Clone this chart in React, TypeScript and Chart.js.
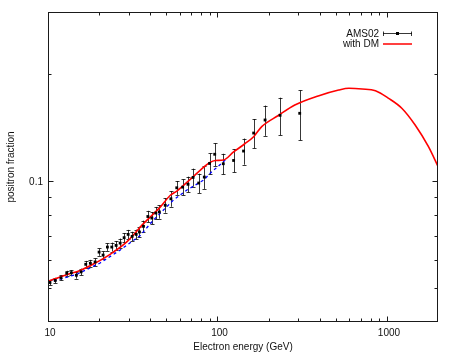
import React, { useEffect, useRef } from "react";
import { Chart, registerables } from "chart.js";

Chart.register(...registerables);

// AMS02 positron fraction (GeV, fraction, error)
const amsEnergy = [10.27, 11.04, 11.93, 12.9, 13.73, 14.7, 15.67, 16.7, 17.78, 18.96, 20.02, 21.14, 22.41, 23.79, 25.23, 26.65, 28.13, 29.71, 31.37, 33.13, 34.64, 36.59, 38.83, 41.0, 43.27, 45.4, 49.17, 53.1, 57.5, 62.3, 67.0, 71.8, 77.5, 83.6, 89.8, 96.3, 108.2, 124.5, 142.5, 163.5, 190.9, 234, 305.6];
const amsFraction = [0.0517, 0.0524, 0.0533, 0.0549, 0.0551, 0.0542, 0.0554, 0.0582, 0.0586, 0.0591, 0.063, 0.0618, 0.0651, 0.0651, 0.0658, 0.0668, 0.0692, 0.0707, 0.0698, 0.0707, 0.0718, 0.0745, 0.0794, 0.0786, 0.0812, 0.0818, 0.0854, 0.0891, 0.0957, 0.0961, 0.0979, 0.1024, 0.0987, 0.1026, 0.1121, 0.119, 0.1119, 0.1143, 0.1215, 0.1366, 0.1487, 0.1533, 0.1553];
const amsError = [0.0009, 0.0009, 0.0009, 0.0009, 0.0009, 0.0012, 0.0012, 0.0013, 0.0013, 0.0014, 0.0015, 0.0015, 0.0016, 0.0019, 0.0019, 0.002, 0.0021, 0.0021, 0.0021, 0.0022, 0.0025, 0.0028, 0.003, 0.0031, 0.0033, 0.0035, 0.004, 0.0045, 0.0043, 0.005, 0.005, 0.006, 0.0062, 0.0076, 0.0077, 0.0088, 0.0075, 0.0085, 0.0103, 0.013, 0.0146, 0.0186, 0.025];

// model with dark matter (red)
const dmEnergy = [10, 12.9, 15.45, 18.53, 23.24, 29.16, 36.6, 45.9, 52.9, 57.6, 69.1, 79.3, 89.7, 97.2, 108.4, 124.4, 144.3, 163.4, 182.4, 228.5, 285.9, 393, 519, 596, 714, 855, 1022, 1223, 1466, 1757, 2000];
const dmFraction = [0.0521, 0.0544, 0.0559, 0.0583, 0.0621, 0.0673, 0.0758, 0.0844, 0.0913, 0.0937, 0.1011, 0.1074, 0.1126, 0.1143, 0.1146, 0.1208, 0.1272, 0.1334, 0.1424, 0.1531, 0.1639, 0.1739, 0.1807, 0.1827, 0.1819, 0.1799, 0.1712, 0.1605, 0.1439, 0.125, 0.11];

// background only (blue dashed)
const bgEnergy = [10, 14.77, 20.3, 26.6, 35.0, 41.9, 55.0, 66.0, 82.8, 90.6, 111.1];
const bgFraction = [0.0517, 0.0545, 0.0587, 0.0638, 0.0702, 0.0776, 0.0884, 0.0943, 0.1006, 0.1052, 0.1146];

const xMajorTicks = [10, 100, 1000];
const xTickLabels = ["10", "100", "1000"];
const xMinorTicks = [20, 30, 40, 50, 60, 70, 80, 90, 200, 300, 400, 500, 600, 700, 800, 900];
const yMajorTicks = [0.1];
const yTickLabels = ["0.1"];
const yMinorTicks = [0.05, 0.06, 0.07, 0.08, 0.09, 0.2];

const FONT = '10px "Liberation Sans", Arial, Helvetica, sans-serif';

const gnuplotPlugin = {
  id: "gnuplotDecor",
  beforeDatasetsDraw(chart: any) {
    const ctx = chart.ctx;
    const xs = chart.scales.x;
    const ys = chart.scales.y;
    ctx.save();
    ctx.strokeStyle = "rgba(0,0,0,0.78)";
    ctx.lineWidth = 1;
    for (let i = 0; i < amsEnergy.length; i++) {
      const px = Math.round(xs.getPixelForValue(amsEnergy[i])) + 0.5;
      const y1 = ys.getPixelForValue(amsFraction[i] + amsError[i]);
      const y2 = ys.getPixelForValue(amsFraction[i] - amsError[i]);
      ctx.beginPath();
      ctx.moveTo(px, y1);
      ctx.lineTo(px, y2);
      ctx.moveTo(px - 2, Math.round(y1) + 0.5);
      ctx.lineTo(px + 2, Math.round(y1) + 0.5);
      ctx.moveTo(px - 2, Math.round(y2) + 0.5);
      ctx.lineTo(px + 2, Math.round(y2) + 0.5);
      ctx.stroke();
    }
    ctx.restore();
  },
  afterDraw(chart: any) {
    const ctx = chart.ctx;
    const xs = chart.scales.x;
    const ys = chart.scales.y;
    const a = chart.chartArea;
    const L = a.left + 0.5;
    const R = a.right - 0.5;
    const T = a.top + 0.5;
    const B = a.bottom - 0.5;
    ctx.save();
    ctx.strokeStyle = "#1a1a1a";
    ctx.lineWidth = 1;
    ctx.strokeRect(L, T, R - L, B - T);

    const xt = (v: number, len: number) => {
      const px = Math.round(xs.getPixelForValue(v)) + 0.5;
      ctx.beginPath();
      ctx.moveTo(px, B);
      ctx.lineTo(px, B - len);
      ctx.moveTo(px, T);
      ctx.lineTo(px, T + len);
      ctx.stroke();
    };
    const yt = (v: number, len: number) => {
      const py = Math.round(ys.getPixelForValue(v)) + 0.5;
      ctx.beginPath();
      ctx.moveTo(L, py);
      ctx.lineTo(L + len, py);
      ctx.moveTo(R, py);
      ctx.lineTo(R - len, py);
      ctx.stroke();
    };
    xMajorTicks.forEach((v) => xt(v, 5));
    xMinorTicks.forEach((v) => xt(v, 3));
    yMajorTicks.forEach((v) => yt(v, 5));
    yMinorTicks.forEach((v) => yt(v, 3));

    ctx.fillStyle = "#111";
    ctx.font = FONT;
    ctx.textBaseline = "middle";
    ctx.textAlign = "center";
    xMajorTicks.forEach((v, i) => {
      ctx.fillText(xTickLabels[i], xs.getPixelForValue(v) + 2, a.bottom + 11);
    });
    ctx.textAlign = "right";
    yMajorTicks.forEach((v, i) => {
      ctx.fillText(yTickLabels[i], a.left - 5, ys.getPixelForValue(v) + 1);
    });
    ctx.textAlign = "center";
    ctx.fillText("Electron energy (GeV)", (a.left + a.right) / 2, a.bottom + 25);
    ctx.save();
    ctx.translate(11, (a.top + a.bottom) / 2);
    ctx.rotate(-Math.PI / 2);
    ctx.fillText("positron fraction", 0, 0);
    ctx.restore();

    // legend (gnuplot style)
    const textRight = 379;
    const s0 = 383;
    const s1 = 412;
    ctx.textAlign = "right";
    ctx.fillText("AMS02", textRight, 34);
    ctx.fillText("with DM", textRight, 44);
    ctx.strokeStyle = "rgba(0,0,0,0.78)";
    ctx.beginPath();
    ctx.moveTo(s0, 33.5);
    ctx.lineTo(s1, 33.5);
    ctx.moveTo(s0 + 0.5, 31.5);
    ctx.lineTo(s0 + 0.5, 36);
    ctx.moveTo(s1 - 0.5, 31.5);
    ctx.lineTo(s1 - 0.5, 36);
    ctx.stroke();
    ctx.fillStyle = "#000";
    ctx.fillRect((s0 + s1) / 2 - 1.5, 32, 3, 3);
    ctx.strokeStyle = "#ff0000";
    ctx.lineWidth = 1.5;
    ctx.beginPath();
    ctx.moveTo(s0, 44);
    ctx.lineTo(s1, 44);
    ctx.stroke();
    ctx.restore();
  },
};

export default function App() {
  const ref = useRef<HTMLCanvasElement | null>(null);
  useEffect(() => {
    if (!ref.current) return;
    const chart = new Chart(ref.current, {
      type: "scatter",
      data: {
        datasets: [
          {
            label: "background",
            data: bgEnergy.map((x, i) => ({ x, y: bgFraction[i] })),
            showLine: true,
            borderColor: "#0000ff",
            borderWidth: 1.3,
            borderDash: [3, 3],
            pointRadius: 0,
            order: 3,
          },
          {
            label: "with DM",
            data: dmEnergy.map((x, i) => ({ x, y: dmFraction[i] })),
            showLine: true,
            borderColor: "#ff0000",
            borderWidth: 1.6,
            pointRadius: 0,
            cubicInterpolationMode: "monotone",
            order: 2,
          },
          {
            label: "AMS02",
            data: amsEnergy.map((x, i) => ({ x, y: amsFraction[i] })),
            showLine: false,
            pointStyle: "rect",
            pointRadius: 2,
            backgroundColor: "#000",
            borderColor: "#000",
            borderWidth: 0,
            order: 1,
          },
        ],
      },
      options: {
        responsive: false,
        animation: false,
        devicePixelRatio: 1,
        layout: { padding: { left: 48, right: 18, top: 12, bottom: 32 } },
        plugins: { legend: { display: false }, tooltip: { enabled: false } },
        scales: {
          x: { type: "logarithmic", min: 10, max: 2000, display: false },
          y: { type: "logarithmic", min: 0.04, max: 0.3, display: false },
        },
      },
      plugins: [gnuplotPlugin],
    } as any);
    return () => chart.destroy();
  }, []);
  return (
    <div style={{ position: "absolute", left: 0, top: 0, width: 456, height: 354, background: "#fff" }}>
      <canvas ref={ref} width={456} height={354} />
    </div>
  );
}
